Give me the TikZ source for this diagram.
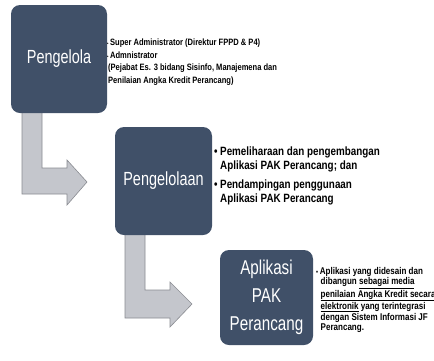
\documentclass[tikz,border=0pt]{standalone}
\usepackage{fontspec}
\setmainfont{Liberation Sans}
\newfontfamily\stagefont{Liberation Sans}[FakeStretch=0.76]
\newfontfamily\notefont{Liberation Sans}[FakeStretch=0.82]
\usetikzlibrary{positioning}
\definecolor{stageblue}{RGB}{64,80,104}
\definecolor{arrowfill}{RGB}{196,198,204}
\definecolor{arrowedge}{RGB}{138,140,146}
\newcommand{\bul}{\makebox[6pt][l]{\textbullet}}
\newcommand{\ind}{\hspace*{6pt}}

\begin{document}
\begin{tikzpicture}[x=1pt,y=-1pt,
    stage/.style={rounded corners=9pt, fill=stageblue, text=white, align=center, inner sep=0pt},
    bentarrow/.style={fill=arrowfill, draw=arrowedge, line width=0.6pt, line join=miter},
    note/.style={anchor=west, align=left, inner sep=0pt, text=black}]
    \clip (0,0) rectangle (434,360);
    \fill[white] (0,0) rectangle (434,360);
    % bent block arrows between the stages
    \draw[bentarrow] (22,108) -- (42,108) -- (42,168) -- (67,168) -- (67,160) -- (87,182)
         -- (67,205) -- (67,194) -- (22,194) -- cycle;
    \draw[bentarrow] (125,230) -- (145,230) -- (145,290) -- (170,290) -- (170,282) -- (192,304)
         -- (170,327) -- (170,318) -- (125,318) -- cycle;
    % stages
    \node[stage, minimum width=96pt, minimum height=108pt, font=\stagefont\fontsize{19}{23}\selectfont]
         (pengelola) at (59,59) {Pengelola};
    \node[stage, minimum width=97pt, minimum height=108pt, font=\stagefont\fontsize{19}{23}\selectfont]
         (pengelolaan) at (163.5,181) {Pengelolaan};
    \node[stage, minimum width=93pt, minimum height=95pt, font=\stagefont\fontsize{20}{28}\selectfont]
         (aplikasi) at (266.5,297.5) {Aplikasi\\PAK\\Perancang};
    % notes beside the stages
    \node[note, font=\notefont\bfseries\fontsize{9.2}{12.7}\selectfont] (pengelolanote) at (107,62)
         {{\tiny\textbullet}\,Super Administrator (Direktur FPPD \& P4)\\
          {\tiny\textbullet}\,Admnistrator\\
          \hspace*{1pt}(Pejabat Es. 3 bidang Sisinfo, Manajemena dan\\
          \hspace*{1pt}Penilaian Angka Kredit Perancang)};
    \node[note, font=\notefont\bfseries\fontsize{12}{14.3}\selectfont] (pengelolaannote) at (214,176)
         {\bul Pemeliharaan dan pengembangan\\
          \ind Aplikasi PAK Perancang; dan\\[4pt]
          \bul Pendampingan penggunaan\\
          \ind Aplikasi PAK Perancang};
    \node[note, font=\notefont\bfseries\fontsize{9.8}{10.8}\selectfont] (aplikasinote) at (316,300)
         {{\scriptsize\textbullet}\,Aplikasi yang didesain dan\\
          \hspace*{4.5pt}dibangun \underline{sebagai media}\\
          \hspace*{4.5pt}\underline{penilaian Angka Kredit secara}\\
          \hspace*{4.5pt}\underline{elektronik} yang terintegrasi\\
          \hspace*{4.5pt}dengan Sistem Informasi JF\\
          \hspace*{4.5pt}Perancang.};
\end{tikzpicture}
\end{document}
